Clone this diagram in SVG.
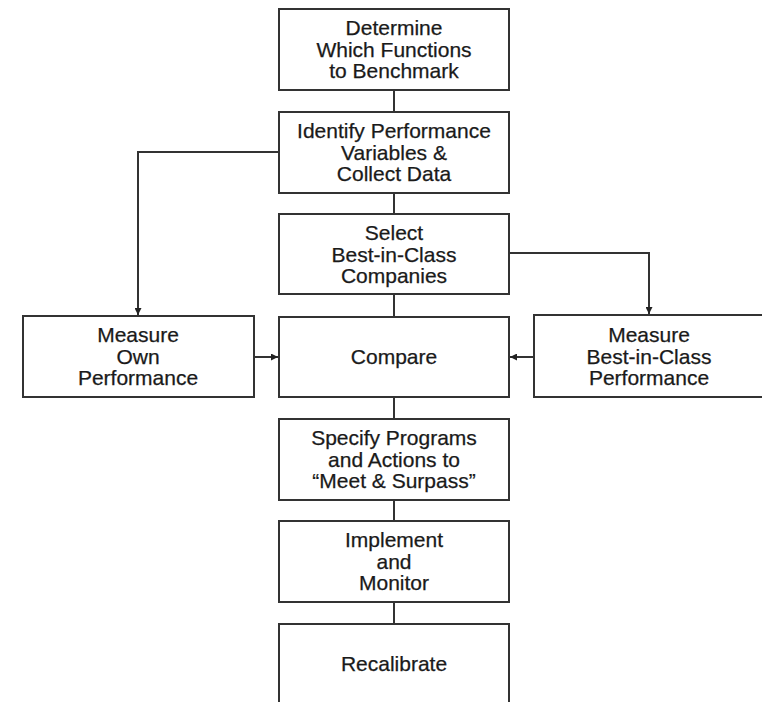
<svg xmlns="http://www.w3.org/2000/svg" width="762" height="702" viewBox="0 0 762 702">
<defs>
<style>
.box{fill:#fff;stroke:#333;stroke-width:2}
.ln{fill:none;stroke:#333;stroke-width:2}
text{font-family:"Liberation Sans",Arial,sans-serif;font-size:21px;fill:#1a1a1a;text-anchor:middle;stroke:#1a1a1a;stroke-width:0.25}
</style>
<marker id="ah" viewBox="0 0 10 10" refX="10" refY="5" markerWidth="9" markerHeight="7" markerUnits="userSpaceOnUse" orient="auto">
<path d="M0,0 L10,5 L0,10 z" fill="#222"/>
</marker>
</defs>
<rect width="762" height="702" fill="#fff"/>
<g id="connectors">
<line class="ln" x1="394" y1="90" x2="394" y2="112"/>
<line class="ln" x1="394" y1="193" x2="394" y2="214"/>
<line class="ln" x1="394" y1="294" x2="394" y2="317"/>
<line class="ln" x1="394" y1="397" x2="394" y2="419"/>
<line class="ln" x1="394" y1="500" x2="394" y2="521"/>
<line class="ln" x1="394" y1="602" x2="394" y2="624"/>
<polyline class="ln" points="279,152 138,152 138,315" marker-end="url(#ah)"/>
<polyline class="ln" points="509,253 649,253 649,314" marker-end="url(#ah)"/>
<line class="ln" x1="254" y1="357" x2="278" y2="357" marker-end="url(#ah)"/>
<line class="ln" x1="534" y1="357" x2="510" y2="357" marker-end="url(#ah)"/>
</g>
<g id="n1"><rect class="box" x="279" y="9" width="230" height="81"/>
<text x="394" y="35">Determine</text><text x="394" y="56.5">Which Functions</text><text x="394" y="78">to Benchmark</text></g>
<g id="n2"><rect class="box" x="279" y="112" width="230" height="81"/>
<text x="394" y="138">Identify Performance</text><text x="394" y="159.5">Variables &amp;</text><text x="394" y="181">Collect Data</text></g>
<g id="n3"><rect class="box" x="279" y="214" width="230" height="80"/>
<text x="394" y="240">Select</text><text x="394" y="261.5">Best-in-Class</text><text x="394" y="283">Companies</text></g>
<g id="n4"><rect class="box" x="279" y="317" width="230" height="80"/>
<text x="394" y="364">Compare</text></g>
<g id="n5"><rect class="box" x="23" y="316" width="231" height="81"/>
<text x="138" y="342">Measure</text><text x="138" y="363.5">Own</text><text x="138" y="385">Performance</text></g>
<g id="n6"><rect class="box" x="534" y="315" width="240" height="82"/>
<text x="649" y="342">Measure</text><text x="649" y="363.5">Best-in-Class</text><text x="649" y="385">Performance</text></g>
<g id="n7"><rect class="box" x="279" y="419" width="230" height="81"/>
<text x="394" y="445">Specify Programs</text><text x="394" y="466.5">and Actions to</text><text x="394" y="488">“Meet &amp; Surpass”</text></g>
<g id="n8"><rect class="box" x="279" y="521" width="230" height="81"/>
<text x="394" y="547">Implement</text><text x="394" y="568.5">and</text><text x="394" y="590">Monitor</text></g>
<g id="n9"><rect class="box" x="279" y="624" width="230" height="90"/>
<text x="394" y="671">Recalibrate</text></g>
</svg>
